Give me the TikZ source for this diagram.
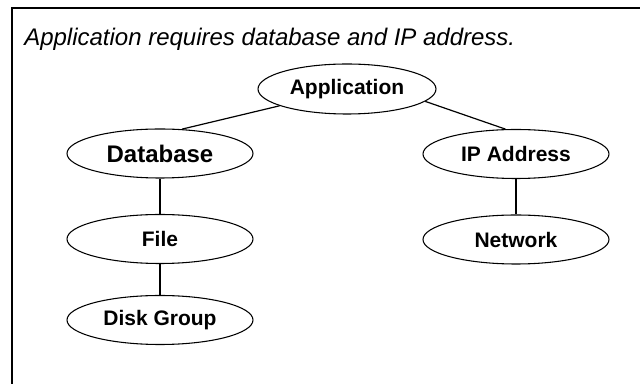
\documentclass[tikz,border=0pt]{standalone}
\usepackage{fontspec}
\setmainfont{Liberation Sans}
\usetikzlibrary{shapes.geometric}
\tikzset{
  ell/.style={ellipse, draw, line width=0.8pt, inner sep=0pt,
    minimum width=139.5pt, minimum height=36.75pt,
    font=\fontsize{15.75}{18}\selectfont\bfseries},
  link/.style={line width=0.9pt},
  frame/.style={line width=1.6pt}
}
\begin{document}
\begin{tikzpicture}[x=0.75pt,y=-0.75pt]
\useasboundingbox (0,0) rectangle (640,384);
\coordinate (ftop) at (640,8);
\coordinate (fcorner) at (12,8);
\coordinate (fbot) at (12,384);
\draw[frame] (ftop) -- (fcorner) -- (fbot);
\node[anchor=base west, inner sep=0pt, font=\fontsize{18}{21}\selectfont\itshape] (title) at (24,46) {Application requires database and IP address.};
\node[ell, minimum width=133.5pt, minimum height=37.5pt] (app) at (347,89) {Application};
\node[ell, font=\fontsize{18}{21}\selectfont\bfseries] (db) at (160,153.5) {Database};
\node[ell] (ip) at (516,154) {IP Address};
\node[ell] (file) at (160,239) {File};
\node[ell] (net) at (516,239.5) {Network};
\node[ell] (disk) at (160,320) {Disk Group};
\draw[link] (app.194) -- (db.48);
\draw[link] (app.-9) -- (ip.113);
\draw[link] (db) -- (file);
\draw[link] (file) -- (disk);
\draw[link] (ip) -- (net);
\end{tikzpicture}
\end{document}
